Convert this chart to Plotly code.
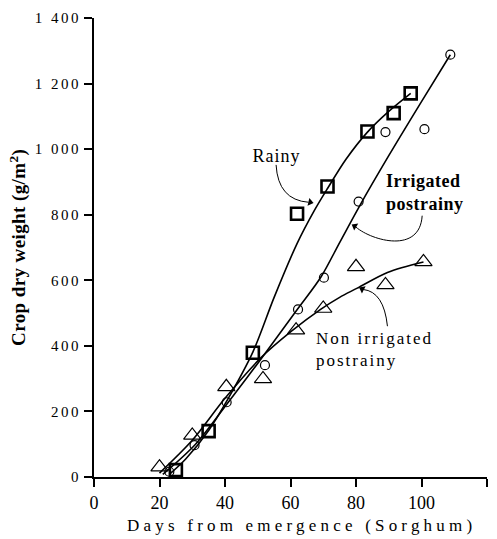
import plotly.graph_objects as go

rainy_days = [25, 35, 48.5, 62, 71.3, 83.5, 91.5, 96.7]
rainy_dw = [21, 140, 379, 803, 886, 1054, 1110, 1170]
irr_days = [23, 30.7, 40.5, 52.2, 62.3, 70.2, 80.8, 89, 100.9, 108.8]
irr_dw = [16, 97, 228, 341, 511, 608, 840, 1052, 1061, 1288]
nonirr_days = [20, 30, 40.4, 51.6, 61.7, 70, 80, 89, 100.6]
nonirr_dw = [30, 127, 275, 299, 448, 514, 641, 586, 656]

# ---- fitted curves ----
rainy_fit_days = [23, 28, 35, 41, 48.5, 55, 62, 67, 71.3, 77, 83.5, 90, 96.7]
rainy_fit_dw = [8, 55, 142, 240, 381, 548, 712, 808, 880, 970, 1052, 1115, 1170]
irr_fit_days = [21, 31, 41, 51, 62, 69.3, 75, 81, 90, 100, 108.8]
irr_fit_dw = [8, 100, 228, 360, 510, 610, 715, 825, 980, 1145, 1288]
nonirr_fit_days = [20, 30, 40, 51, 60.2, 69.3, 75, 80.4, 89.6, 100.6]
nonirr_fit_dw = [12, 112, 240, 364, 444, 512, 548, 576, 624, 656]

# pointer arrow heads (day, weight, direction in degrees)
head_days = [66.0, 79.6, 81.9]
head_dw = [838, 765, 573]
head_angle = [103, -60, -63]

# tick labels
x_ticks = [0, 20, 40, 60, 80, 100, 120]
y_ticks = [0, 200, 400, 600, 800, 1000, 1200, 1400]
y_ticktext = ["0", "200", "400", "600", "800", "1 000", "1 200", "1 400"]

FONT = "Liberation Serif"
INK = "black"

fig = go.Figure()

for xs, ys in [(rainy_fit_days, rainy_fit_dw), (irr_fit_days, irr_fit_dw),
               (nonirr_fit_days, nonirr_fit_dw)]:
    fig.add_trace(go.Scatter(x=xs, y=ys, mode="lines",
                             line=dict(color=INK, width=1.6, shape="spline", smoothing=0.9),
                             hoverinfo="skip", showlegend=False))

fig.add_trace(go.Scatter(x=rainy_days, y=rainy_dw, mode="markers", name="Rainy",
                         marker=dict(symbol="square-open", size=12, color=INK,
                                     line=dict(width=2.6, color=INK)),
                         showlegend=False))
fig.add_trace(go.Scatter(x=irr_days, y=irr_dw, mode="markers", name="Irrigated postrainy",
                         marker=dict(symbol="circle-open", size=9, color=INK,
                                     line=dict(width=1.2, color=INK)),
                         showlegend=False))
fig.add_trace(go.Scatter(x=nonirr_days, y=nonirr_dw, mode="markers",
                         name="Non irrigated postrainy",
                         marker=dict(symbol="triangle-up-open", size=15, color=INK,
                                     line=dict(width=1.2, color=INK)),
                         showlegend=False))

# curved pointer lines
arrow_paths = [
    "M 55.6 952 Q 56.2 845 65.5 838",
    "M 100.2 797 C 99.5 680 85 720 80 762",
    "M 89.6 460 Q 88.5 565 82.2 572",
]
for p in arrow_paths:
    fig.add_shape(type="path", path=p, xref="x", yref="y",
                  line=dict(color=INK, width=1))

fig.add_trace(go.Scatter(x=head_days, y=head_dw, mode="markers", hoverinfo="skip",
                         marker=dict(symbol="triangle-up", size=7, color=INK,
                                     angle=head_angle, line=dict(width=0)),
                         showlegend=False))

annotations = [
    dict(x=48.6, y=980, xref="x", yref="y", text="Rainy", showarrow=False,
         xanchor="left", yanchor="middle", font=dict(family=FONT, size=18, color=INK)),
    dict(x=88.6, y=868, xref="x", yref="y", text="<b>Irrigated<br>postrainy</b>",
         showarrow=False, xanchor="left", yanchor="middle", align="left",
         font=dict(family=FONT, size=18, color=INK)),
    dict(x=67.2, y=389, xref="x", yref="y", text="Non irrigated<br>postrainy",
         showarrow=False, xanchor="left", yanchor="middle", align="left",
         font=dict(family=FONT, size=17, color=INK)),
    # axis titles
    dict(x=0.529, y=0, xref="paper", yref="paper", yshift=-48,
         text="Days from emergence (Sorghum)", showarrow=False,
         xanchor="center", yanchor="middle", font=dict(family=FONT, size=17, color=INK)),
    dict(x=0, y=0.5, xref="paper", yref="paper", xshift=-76, textangle=-90,
         text="<b>Crop dry weight (g/m<sup>2</sup>)</b>", showarrow=False,
         xanchor="center", yanchor="middle", font=dict(family=FONT, size=19, color=INK)),
]

fig.update_layout(
    width=497, height=539,
    margin=dict(l=94, r=10, t=14, b=62),
    paper_bgcolor="white", plot_bgcolor="white",
    font=dict(family=FONT, color=INK),
    annotations=annotations,
    showlegend=False,
)
fig.update_xaxes(range=[0, 120], tickvals=x_ticks, showgrid=False, zeroline=False,
                 showline=True, linecolor=INK, linewidth=2, ticks="outside", ticklen=8,
                 tickwidth=1.5, tickcolor=INK, tickfont=dict(family=FONT, size=18, color=INK))
fig.update_yaxes(range=[0, 1400], tickvals=y_ticks, ticktext=y_ticktext, showgrid=False,
                 zeroline=False, showline=True, linecolor=INK, linewidth=2, ticks="outside",
                 ticklen=8, tickwidth=1.5, tickcolor=INK,
                 tickfont=dict(family=FONT, size=15, color=INK))

post = """
var gd = document.getElementById('{plot_id}');
function ls(sel, v){ gd.querySelectorAll(sel).forEach(function(e){ e.style.letterSpacing = v; }); }
ls('.ytick text', '2.5px');
ls('.annotation[data-index="0"] text', '1px');
ls('.annotation[data-index="1"] text', '0.5px');
ls('.annotation[data-index="2"] text', '2px');
ls('.annotation[data-index="3"] text', '4.2px');
ls('.annotation[data-index="4"] text', '0.4px');
"""

fig.write_html("out.html", post_script=post)
